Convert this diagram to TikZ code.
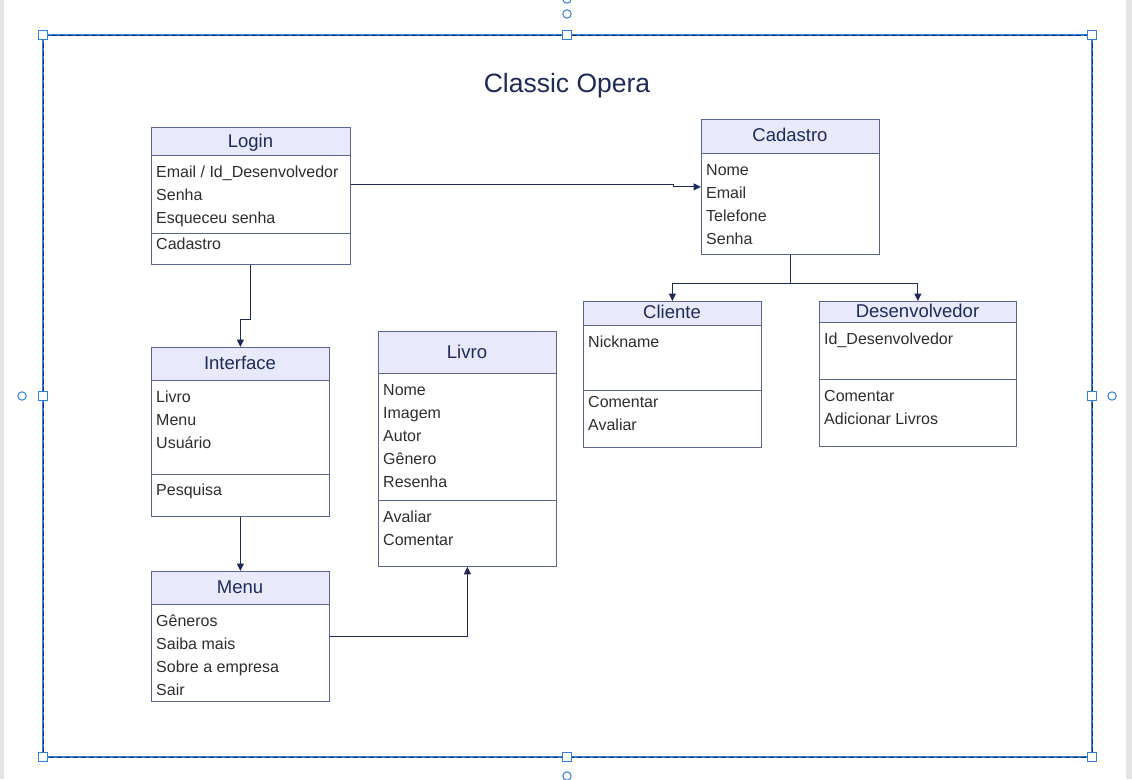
\documentclass[tikz,border=0pt]{standalone}
\usepackage{fontspec}
\setmainfont{Liberation Sans}
\usetikzlibrary{arrows.meta}
\definecolor{hdr}{HTML}{E8EAFC}
\definecolor{bord}{HTML}{5A6496}
\definecolor{navy}{HTML}{1C2B5A}
\definecolor{txt}{HTML}{2E2E2E}
\definecolor{sel}{HTML}{2F7FD8}
\definecolor{edge}{HTML}{E4E4E4}
\tikzset{
  box/.style={draw=bord, line width=0.8pt, anchor=north west, inner sep=0pt, minimum width=#1},
  hdrtxt/.style={font=\fontsize{18.5}{20}\selectfont, text=navy, anchor=base, inner sep=0pt},
  attr/.style={font=\fontsize{16}{18}\selectfont, text=txt, anchor=base west, inner sep=0pt},
  sepline/.style={draw=bord, line width=0.8pt},
  conn/.style={draw=navy, line width=1.1pt, -{Triangle[length=7.5pt,width=7pt]}},
  handle/.style={draw=sel, fill=white, line width=1pt},
}
\begin{document}
\begin{tikzpicture}[x=1pt,y=-1pt]
\useasboundingbox (0,0) rectangle (1132,779);
\fill[white] (0,0) rectangle (1132,779);
\fill[edge] (0,0) rectangle (4,779);
\fill[edge] (1126,0) rectangle (1132,779);

% title
\node[font=\fontsize{26.5}{30}\selectfont, text=navy, anchor=base] (title) at (567,92) {Classic Opera};

% Login
\fill[hdr] (151,127) rectangle (350,155);
\draw[sepline] (151,155) -- (350,155);
\draw[sepline] (151,233) -- (350,233);
\node[box=199pt, minimum height=137pt] (login) at (151,127) {};
\node[hdrtxt] (loginT) at (250.5,147.5) {Login};
\node[attr] (l1) at (156,177) {Email / Id\_Desenvolvedor};
\node[attr] (l2) at (156,200) {Senha};
\node[attr] (l3) at (156,223) {Esqueceu senha};
\node[attr] (l4) at (156,249) {Cadastro};

% Cadastro
\fill[hdr] (701,119) rectangle (879,153);
\draw[sepline] (701,153) -- (879,153);
\node[box=178pt, minimum height=135pt] (cadastro) at (701,119) {};
\node[hdrtxt] (cadT) at (790,141.6) {Cadastro};
\node[attr] (c1) at (706,175) {Nome};
\node[attr] (c2) at (706,198) {Email};
\node[attr] (c3) at (706,221) {Telefone};
\node[attr] (c4) at (706,244) {Senha};

% Cliente
\fill[hdr] (583,301) rectangle (761,325);
\draw[sepline] (583,325) -- (761,325);
\draw[sepline] (583,390) -- (761,390);
\node[box=178pt, minimum height=146pt] (cliente) at (583,301) {};
\node[hdrtxt] (cliT) at (672,318.5) {Cliente};
\node[attr] (k1) at (588,347) {Nickname};
\node[attr] (k2) at (588,407) {Comentar};
\node[attr] (k3) at (588,430) {Avaliar};

% Desenvolvedor
\fill[hdr] (819,301) rectangle (1016,322);
\draw[sepline] (819,322) -- (1016,322);
\draw[sepline] (819,379) -- (1016,379);
\node[box=197pt, minimum height=145pt] (desenv) at (819,301) {};
\node[hdrtxt] (desT) at (917.5,317.5) {Desenvolvedor};
\node[attr] (d1) at (824,344) {Id\_Desenvolvedor};
\node[attr] (d2) at (824,401) {Comentar};
\node[attr] (d3) at (824,424) {Adicionar Livros};

% Interface
\fill[hdr] (151,347) rectangle (329,380);
\draw[sepline] (151,380) -- (329,380);
\draw[sepline] (151,474) -- (329,474);
\node[box=178pt, minimum height=169pt] (interface) at (151,347) {};
\node[hdrtxt] (intT) at (240,369.5) {Interface};
\node[attr] (i1) at (156,402) {Livro};
\node[attr] (i2) at (156,425) {Menu};
\node[attr] (i3) at (156,448) {Usuário};
\node[attr] (i4) at (156,495) {Pesquisa};

% Menu
\fill[hdr] (151,571) rectangle (329,604);
\draw[sepline] (151,604) -- (329,604);
\node[box=178pt, minimum height=130pt] (menu) at (151,571) {};
\node[hdrtxt] (menT) at (240,593.5) {Menu};
\node[attr] (m1) at (156,626) {Gêneros};
\node[attr] (m2) at (156,649) {Saiba mais};
\node[attr] (m3) at (156,672) {Sobre a empresa};
\node[attr] (m4) at (156,695) {Sair};

% Livro
\fill[hdr] (378,331) rectangle (556,373);
\draw[sepline] (378,373) -- (556,373);
\draw[sepline] (378,500) -- (556,500);
\node[box=178pt, minimum height=235pt] (livro) at (378,331) {};
\node[hdrtxt] (livT) at (467,358.5) {Livro};
\node[attr] (b1) at (383,395) {Nome};
\node[attr] (b2) at (383,418) {Imagem};
\node[attr] (b3) at (383,441) {Autor};
\node[attr] (b4) at (383,464) {Gênero};
\node[attr] (b5) at (383,487) {Resenha};
\node[attr] (b6) at (383,522) {Avaliar};
\node[attr] (b7) at (383,545) {Comentar};

% connectors
\draw[conn] ([yshift=11.5pt]login.east) -- ++(323,0) |- (cadastro.west);
\draw[conn] (cadastro.south) -- ++(0,29) -| (cliente.north);
\draw[conn] (cadastro.south) -- ++(0,29) -| (desenv.north);
\draw[conn] (login.south) -- ++(0,55) -| (interface.north);
\draw[conn] (interface.south) -- (menu.north);
\draw[conn] (menu.east) -| (livro.south);

% selection frame
\draw[sel, line width=2.2pt] (43,35) rectangle (1092,757);
\draw[navy, line width=1pt, dash pattern=on 5pt off 3pt] (43,35) rectangle (1092,757);
\foreach \hx/\hy in {43/35,567/35,1092/35,43/396,1092/396,43/757,567/757,1092/757}
  \draw[handle] (\hx-4.5,\hy-4.5) rectangle (\hx+4.5,\hy+4.5);
\foreach \cx/\cy in {567/14,567/-1,22/396,1112/396,567/776}
  \draw[handle] (\cx,\cy) circle (4.2);
\end{tikzpicture}
\end{document}
